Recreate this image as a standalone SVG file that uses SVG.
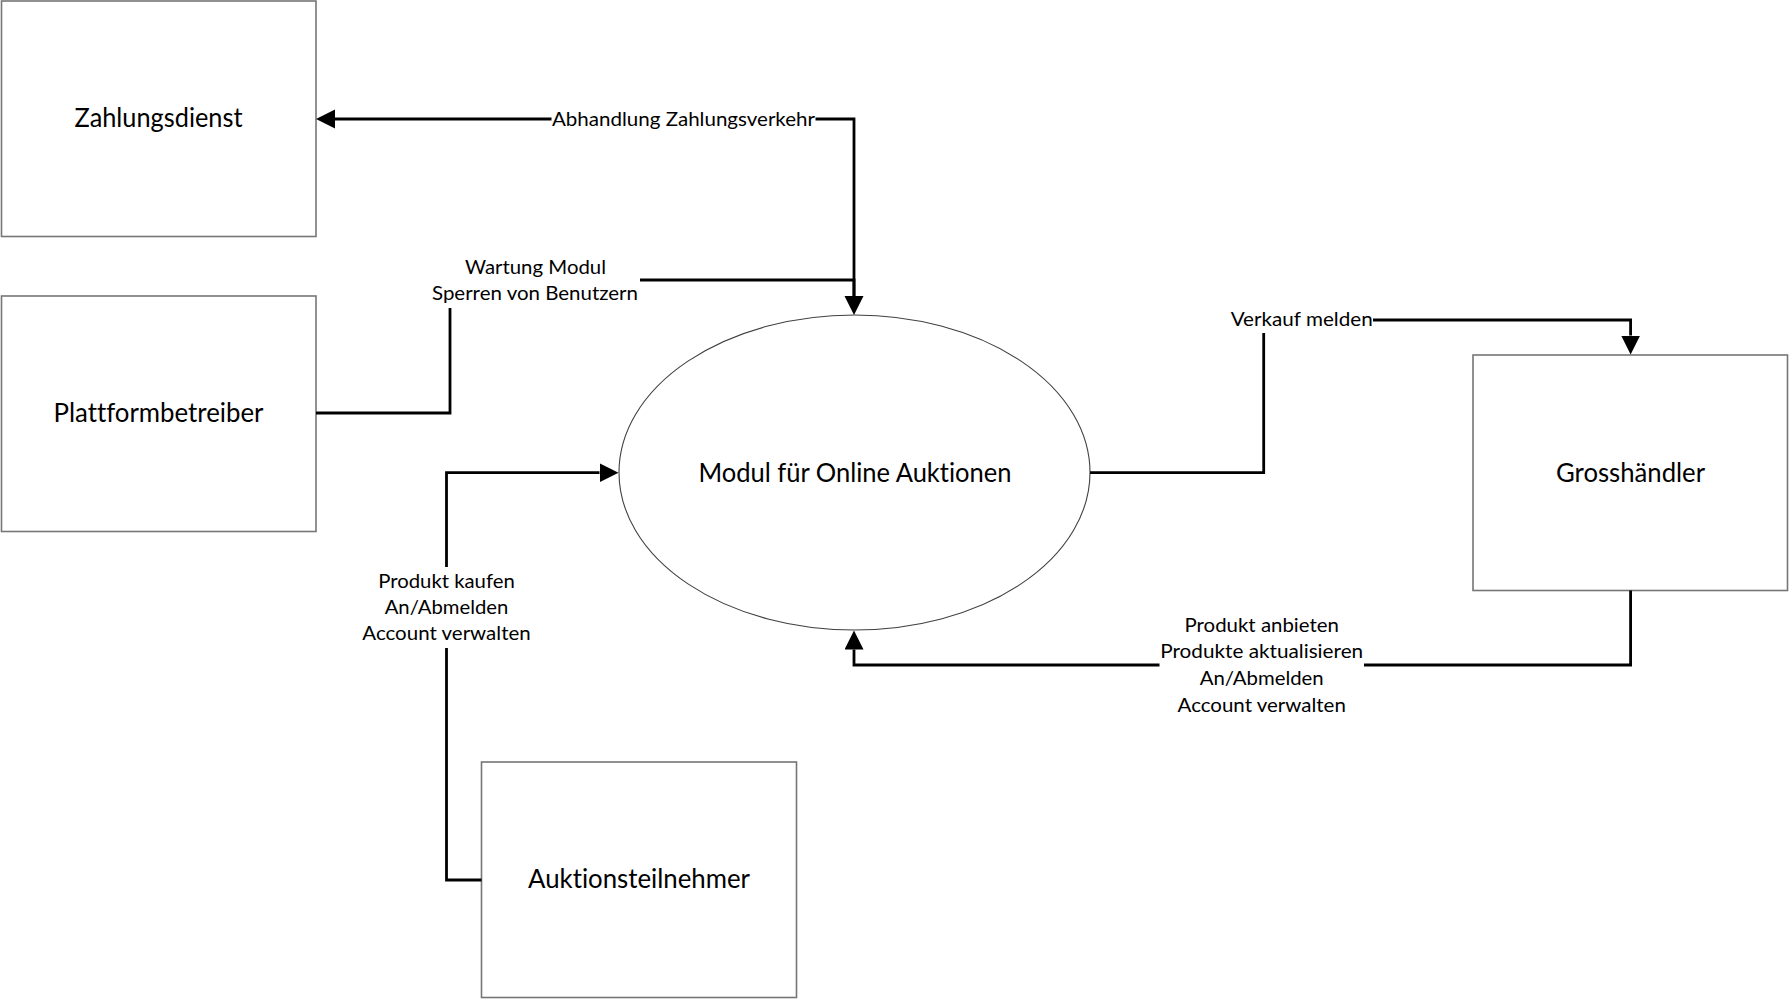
<svg xmlns="http://www.w3.org/2000/svg" width="1789" height="999" viewBox="0 0 1789 999">
<style>
  .box { fill: #ffffff; stroke: #767676; stroke-width: 1.6; }
  .proc { fill: #ffffff; stroke: #404040; stroke-width: 1.1; }
  .conn { fill: none; stroke: #000000; stroke-width: 2.8; marker-end: url(#arrow); }
  .nlabel { font-family: Lato, "Liberation Sans", sans-serif; font-size: 26.5px; fill: #000000; text-anchor: middle; font-variant-ligatures: none; }
  .elabel { font-family: Lato, "Liberation Sans", sans-serif; font-size: 20px; fill: #000000; text-anchor: middle; font-variant-ligatures: none; }
  .bg { fill: #ffffff; stroke: none; }
</style>
<defs>
  <marker id="arrow" markerUnits="userSpaceOnUse" markerWidth="20" markerHeight="20" refX="0" refY="9.5" orient="auto">
    <path d="M0,0 L19,9.5 L0,19 Z" fill="#000000"/>
  </marker>
</defs>
<rect width="1789" height="999" fill="#ffffff"/>

<g id="nodes">
  <g id="zahlungsdienst">
    <rect class="box" x="1.5" y="1" width="314.5" height="235.5"/>
    <text class="nlabel" x="158.5" y="127" textLength="168" lengthAdjust="spacingAndGlyphs">Zahlungsdienst</text>
  </g>
  <g id="plattformbetreiber">
    <rect class="box" x="1.5" y="296" width="314.5" height="235.5"/>
    <text class="nlabel" x="158.5" y="422" textLength="210" lengthAdjust="spacingAndGlyphs">Plattformbetreiber</text>
  </g>
  <g id="modul">
    <ellipse class="proc" cx="854.5" cy="472.5" rx="235.5" ry="157.5"/>
    <text class="nlabel" x="855" y="481.5" textLength="313" lengthAdjust="spacingAndGlyphs">Modul für Online Auktionen</text>
  </g>
  <g id="grosshaendler">
    <rect class="box" x="1473" y="355" width="314.5" height="235.5"/>
    <text class="nlabel" x="1630.5" y="481.5" textLength="149" lengthAdjust="spacingAndGlyphs">Grosshändler</text>
  </g>
  <g id="auktionsteilnehmer">
    <rect class="box" x="481.5" y="762" width="315" height="235.5"/>
    <text class="nlabel" x="639" y="888" textLength="222" lengthAdjust="spacingAndGlyphs">Auktionsteilnehmer</text>
  </g>
</g>

<g id="connectors">
  <path class="conn" d="M854,296 L854,119 L335,119"/>
  <path class="conn" d="M316,413 L450,413 L450,280 L854,280 L854,296"/>
  <path class="conn" d="M1090,472.7 L1263.7,472.7 L1263.7,320 L1630.6,320 L1630.6,335.5"/>
  <path class="conn" d="M481.5,880 L446.5,880 L446.5,472.7 L599.5,472.7"/>
  <path class="conn" d="M1630.6,590.5 L1630.6,665 L854,665 L854,649.5"/>
</g>

<g id="labels">
  <g id="label-abhandlung">
    <rect class="bg" x="551.5" y="108" width="264" height="26"/>
    <text class="elabel" x="683.5" y="126" textLength="263" lengthAdjust="spacingAndGlyphs">Abhandlung Zahlungsverkehr</text>
  </g>
  <g id="label-wartung">
    <rect class="bg" x="430" y="254" width="210" height="54"/>
    <text class="elabel" x="535.5" y="274" textLength="141" lengthAdjust="spacingAndGlyphs">Wartung Modul</text>
    <text class="elabel" x="535" y="300" textLength="206" lengthAdjust="spacingAndGlyphs">Sperren von Benutzern</text>
  </g>
  <g id="label-verkauf">
    <rect class="bg" x="1229" y="306" width="144" height="27"/>
    <text class="elabel" x="1301.7" y="326" textLength="142" lengthAdjust="spacingAndGlyphs">Verkauf melden</text>
  </g>
  <g id="label-kaufen">
    <rect class="bg" x="360" y="567" width="173" height="81"/>
    <text class="elabel" x="446.5" y="588" textLength="136.6" lengthAdjust="spacingAndGlyphs">Produkt kaufen</text>
    <text class="elabel" x="446.5" y="614" textLength="123.6" lengthAdjust="spacingAndGlyphs">An/Abmelden</text>
    <text class="elabel" x="446.5" y="640" textLength="168.4" lengthAdjust="spacingAndGlyphs">Account verwalten</text>
  </g>
  <g id="label-anbieten">
    <rect class="bg" x="1159.5" y="612" width="204.5" height="106"/>
    <text class="elabel" x="1261.7" y="631.7" textLength="154.3" lengthAdjust="spacingAndGlyphs">Produkt anbieten</text>
    <text class="elabel" x="1261.7" y="658.3" textLength="203" lengthAdjust="spacingAndGlyphs">Produkte aktualisieren</text>
    <text class="elabel" x="1261.7" y="685" textLength="124" lengthAdjust="spacingAndGlyphs">An/Abmelden</text>
    <text class="elabel" x="1261.7" y="711.7" textLength="168.3" lengthAdjust="spacingAndGlyphs">Account verwalten</text>
  </g>
</g>
</svg>
